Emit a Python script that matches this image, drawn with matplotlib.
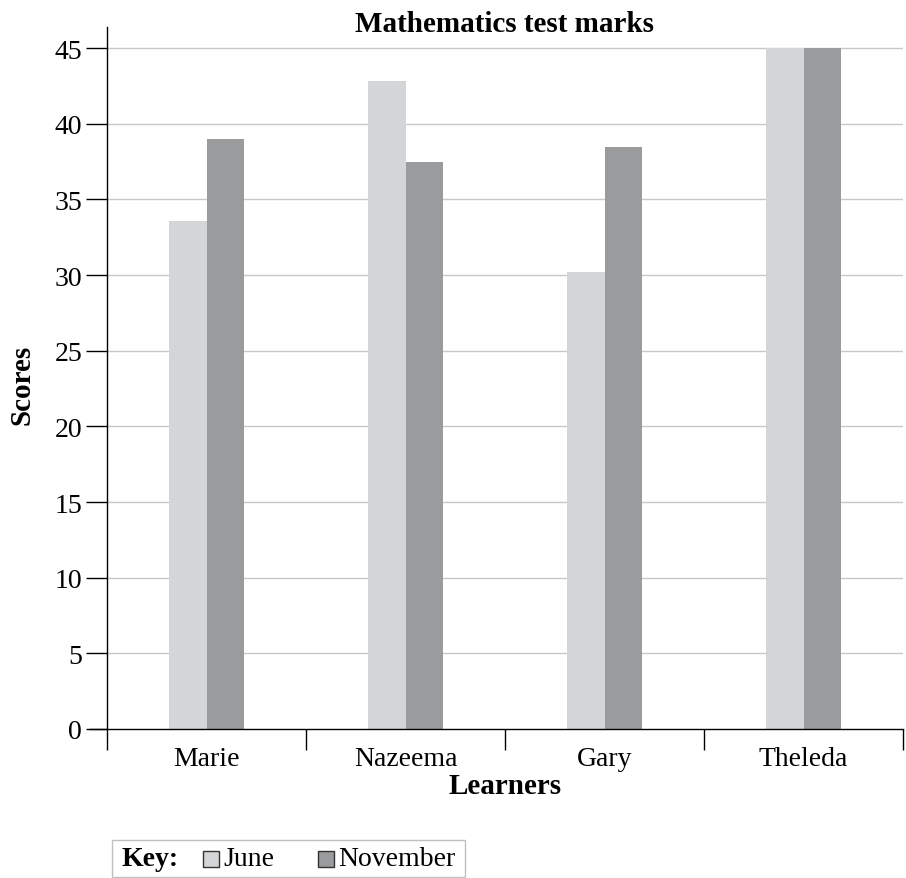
import numpy as np
import matplotlib
matplotlib.use("Agg")
from matplotlib import pyplot as plt
from matplotlib.patches import Rectangle

learners = ["Marie", "Nazeema", "Gary", "Theleda"]
june = [33.6, 42.8, 30.2, 45]
november = [39, 37.5, 38.5, 45]
series = ["June", "November"]
colors = ["#d4d5d7", "#9a9b9d"]

plt.rcParams["font.family"] = ["Liberation Serif", "DejaVu Serif"]

fig = plt.figure(figsize=(9.06, 8.79), dpi=100)
ax = fig.add_axes([107 / 906, 1 - 730 / 879, 796 / 906, 702 / 879])

x = np.arange(len(learners))
w = 0.19
ax.bar(x - w / 2, june, w, color=colors[0], zorder=2)
ax.bar(x + w / 2, november, w, color=colors[1], zorder=2)

ax.set_xlim(-0.5, len(learners) - 0.5)
ax.set_ylim(0, 46.4)
ax.set_yticks(np.arange(0, 46, 5))
ax.set_xticks(x)
ax.set_xticklabels(learners)
ax.set_xticks(np.arange(-0.5, len(learners), 1), minor=True)
ax.tick_params(axis="x", which="major", length=0, labelsize=20, pad=12)
ax.tick_params(axis="x", which="minor", length=15, width=1, color="black")
ax.tick_params(axis="y", length=15, width=1, labelsize=20, pad=3)

for s in ["top", "right"]:
    ax.spines[s].set_visible(False)
ax.spines["bottom"].set_bounds(-0.5 - 17 / 199, len(learners) - 0.5)
ax.spines["left"].set_linewidth(1)
ax.spines["bottom"].set_linewidth(1)

for v in np.arange(5, 46, 5):
    ax.axhline(v, color="#c8c8c8", lw=1, zorder=1)

fig.text(505 / 906, 1 - 25 / 879, "Mathematics test marks", ha="center", va="center",
         fontsize=21, fontweight="bold")
fig.text(22 / 906, 1 - 385 / 879, "Scores", rotation=90, ha="center", va="center",
         fontsize=21, fontweight="bold")
fig.text(505 / 906, 1 - 787 / 879, "Learners", ha="center", va="center",
         fontsize=21, fontweight="bold")

# key box
fig.add_artist(Rectangle((112 / 906, 1 / 879), 353 / 906, 37 / 879, transform=fig.transFigure,
                         fill=False, edgecolor="#c0c0c0", lw=1))
fig.text(122 / 906, 1 - 860 / 879, "Key:", ha="left", va="center", fontsize=20, fontweight="bold")
for i, (name, xs) in enumerate(zip(series, [203, 318])):
    fig.add_artist(Rectangle((xs / 906, 1 - 868 / 879), 16 / 906, 16 / 879, transform=fig.transFigure,
                             facecolor=colors[i], edgecolor="#333333", lw=1))
    fig.text((xs + 20) / 906, 1 - 860 / 879, name, ha="left", va="center", fontsize=20)

fig.savefig("out.png", dpi=100)
